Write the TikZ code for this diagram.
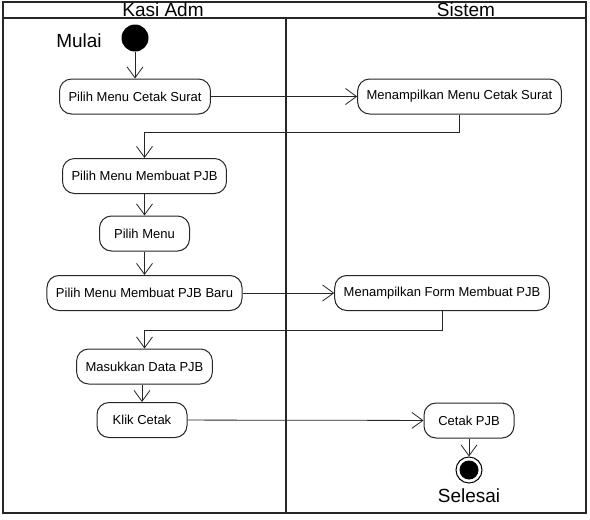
\documentclass[tikz,border=0pt]{standalone}
\usepackage{fontspec}
\setmainfont{Liberation Sans}
\usetikzlibrary{arrows.meta,positioning}
\tikzset{
  >={Straight Barb[length=11pt,width=16pt,line width=0.8pt]},
  % jalur
  lane/.style={draw=black!85,line width=1.2pt},
  lanehead/.style={font=\fontsize{19}{21}\selectfont,anchor=base,inner sep=0pt},
  % aktivitas
  act/.style={rectangle,rounded corners=12pt,draw=black!85,line width=1pt,
              fill=white,minimum width=90pt,minimum height=35pt,inner xsep=9pt,
              font=\fontsize{13}{15}\selectfont},
  startnode/.style={circle,fill=black,inner sep=0pt,minimum size=27pt},
  endnode/.style={circle,draw=black,line width=1pt,inner sep=0pt,minimum size=26pt,
                  path picture={\fill (path picture bounding box.center) circle (9.5pt);}},
  flow/.style={->,draw=black!85,line width=0.8pt},
}
\begin{document}
\begin{tikzpicture}[x=1pt,y=-1pt]
\useasboundingbox (0,0) rectangle (590,520);
  % kolom
  \draw[lane] (3,2) rectangle (586,513);
  \draw[lane] (3,18) -- (586,18);
  \draw[lane] (286,18) -- (286,513);
  \node[lanehead] (hkasi) at (163,16) {Kasi Adm};
  \node[lanehead] (hsis) at (466,16) {Sistem};
  % node
  \node[startnode] (mulai) at (135,38) {};
  \node[lanehead] (tmulai) at (79,47) {Mulai};
  \node[act] (pilihcetak) at (135,96.5) {Pilih Menu Cetak Surat};
  \node[act] (tampilcetak) at (459.5,96.5) {Menampilkan Menu Cetak Surat};
  \node[act] (pilihpjb) at (144.5,176) {Pilih Menu Membuat PJB};
  \node[act] (pilihmenu) at (144.5,233.5) {Pilih Menu};
  \node[act] (pilihbaru) at (144.5,293) {Pilih Menu Membuat PJB Baru};
  \node[act] (tampilform) at (442,293) {Menampilkan Form Membuat PJB};
  \node[act] (masukdata) at (144.5,366.5) {Masukkan Data PJB};
  \node[act] (klik) at (142,420) {Klik Cetak};
  \node[act] (cetak) at (469,420.5) {Cetak PJB};
  \node[endnode] (selesai) at (469,470) {};
  \node[lanehead] (tselesai) at (469,502) {Selesai};
  \coordinate (b1) at (459.5,132);
  \coordinate (b2) at (442,330);
  % alur
  \draw[flow] (mulai) -- (pilihcetak);
  \draw[flow] (pilihcetak) -- (tampilcetak);
  \draw[flow] (tampilcetak) -- (b1) -| (pilihpjb);
  \draw[flow] (pilihpjb) -- (pilihmenu);
  \draw[flow] (pilihmenu) -- (pilihbaru);
  \draw[flow] (pilihbaru) -- (tampilform);
  \draw[flow] (tampilform) -- (b2) -| (masukdata);
  \draw[flow] (masukdata.south -| klik) -- (klik);
  \draw[flow] (klik) -- (cetak);
  \draw[flow] (cetak) -- (selesai);
\end{tikzpicture}
\end{document}
